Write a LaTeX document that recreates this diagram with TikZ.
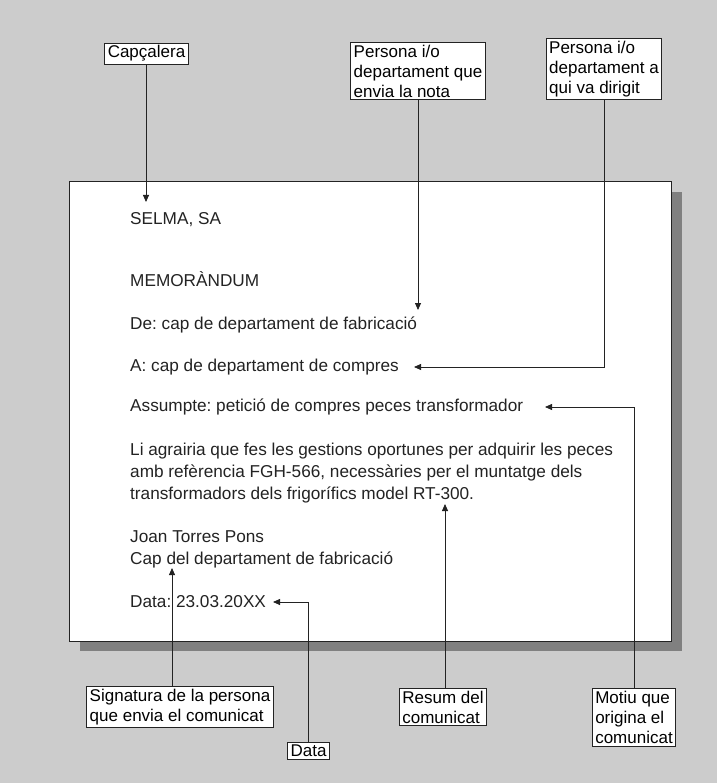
\documentclass[tikz,border=0pt]{standalone}
\usepackage{fontspec}
\setmainfont{Liberation Sans}
\frenchspacing
\usetikzlibrary{arrows.meta,positioning,calc}
\definecolor{paperGrey}{RGB}{204, 204, 204}
\definecolor{shadowGrey}{RGB}{128, 128, 128}
\definecolor{inkDark}{RGB}{35, 35, 35}

\begin{document}
\begin{tikzpicture}[x=1pt, y=-1pt,
    labelbox/.style={draw=inkDark, fill=white, line width=0.8pt, inner xsep=3pt, inner ysep=2.5pt, align=left, font=\fontsize{17pt}{20pt}\selectfont},
    memoline/.style={anchor=base west, inner sep=0pt, text=inkDark, font=\fontsize{17.2pt}{22pt}\selectfont},
    pointer/.style={-{Triangle[length=7pt, width=6pt]}, line width=0.8pt, color=inkDark}]

      % fons i full
      \fill[paperGrey] (0,0) rectangle (717,783);
      \useasboundingbox (0,0) rectangle (717,783);
      \fill[shadowGrey] (80,192) rectangle (682,651);
      \draw[draw=inkDark, fill=white, line width=0.8pt] (69,181) rectangle (671,641);

      % text del memoràndum
      \node[memoline] (selma) at (130,224.5) {SELMA, SA};
      \node[memoline] (memo) at (130,287) {MEMORÀNDUM};
      \node[memoline] (lineDe) at (130,329) {De: cap de departament de fabricació};
      \node[memoline] (lineA) at (130,371.5) {A: cap de departament de compres};
      \node[memoline] (lineAssumpte) at (130,411.5) {Assumpte: petició de compres peces transformador};
      \node[memoline] (cos1) at (130,455) {Li agrairia que fes les gestions oportunes per adquirir les peces};
      \node[memoline] (cos2) at (130,477) {amb refèrencia FGH-566, necessàries per el muntatge dels};
      \node[memoline] (cos3) at (130,499) {transformadors dels frigorífics model RT-300.};
      \node[memoline] (signa1) at (130,542) {Joan Torres Pons};
      \node[memoline] (signa2) at (130,564) {Cap del departament de fabricació};
      \node[memoline] (lineData) at (130,607) {Data: 23.03.20XX};

      % etiquetes
      \node[labelbox] (capcalera) at (146.5,53.5) {Capçalera};
      \node[labelbox] (emissor) at (418,71) {Persona i/o\\departament que\\envia la nota};
      \node[labelbox] (receptor) at (604,69) {Persona i/o\\departament a\\qui va dirigit};
      \node[labelbox] (signatura) at (180,707) {Signatura de la persona\\que envia el comunicat};
      \node[labelbox] (dataLabel) at (308.5,750.5) {Data};
      \node[labelbox] (resum) at (443,707) {Resum del\\comunicat};
      \node[labelbox] (motiu) at (634,717.5) {Motiu que\\origina el\\comunicat};

      % puntes de fletxa
      \coordinate (tipSelma) at (146,202);
      \coordinate (tipDe) at (418,310);
      \coordinate (tipA) at (414,367);
      \coordinate (tipAssumpte) at (545,407);
      \coordinate (tipResum) at (445,504);
      \coordinate (tipSigna) at (172,568);
      \coordinate (tipData) at (273,602);

      \draw[pointer] (capcalera.south -| tipSelma) -- (tipSelma);
      \draw[pointer] (emissor.south) -- (tipDe);
      \draw[pointer] (receptor.south) |- (tipA);
      \draw[pointer] (motiu.north) |- (tipAssumpte);
      \draw[pointer] (resum.north -| tipResum) -- (tipResum);
      \draw[pointer] (signatura.north -| tipSigna) -- (tipSigna);
      \draw[pointer] (dataLabel.north) |- (tipData);
  \end{tikzpicture}
\end{document}
